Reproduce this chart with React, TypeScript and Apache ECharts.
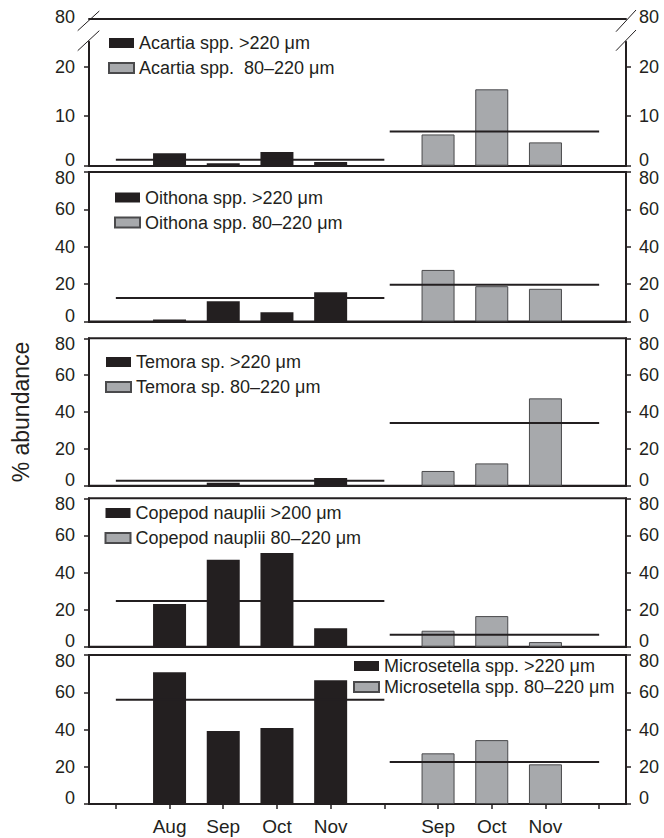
import React, { useEffect, useRef } from 'react';
import * as echarts from 'echarts';

// ---------- data ----------
const categories = ['', 'Aug', 'Sep', 'Oct', 'Nov', '', 'Sep', 'Oct', 'Nov', ''];

const largeLabels = [
  'Acartia spp. >220 μm',
  'Oithona spp. >220 μm',
  'Temora sp. >220 μm',
  'Copepod nauplii >200 μm',
  'Microsetella spp. >220 μm',
];
const smallLabels = [
  'Acartia spp.  80–220 μm',
  'Oithona spp. 80–220 μm',
  'Temora sp. 80–220 μm',
  'Copepod nauplii 80–220 μm',
  'Microsetella spp. 80–220 μm',
];

// >220 µm fraction: Aug, Sep, Oct, Nov
const acartiaLarge = [2.5, 0.5, 2.75, 0.75];
const oithonaLarge = [1.1, 10.8, 4.9, 15.7];
const temoraLarge = [0, 1.6, 0, 4.2];
const naupliiLarge = [23, 46.9, 50.5, 9.9];
const microLarge = [70.7, 39.2, 40.8, 66.5];

// 80–220 µm fraction: Sep, Oct, Nov
const acartiaSmall = [6.3, 15.4, 4.7];
const oithonaSmall = [27.6, 18.9, 17.5];
const temoraSmall = [8, 12.1, 47.4];
const naupliiSmall = [8.6, 16.5, 2.5];
const microSmall = [27.2, 34.3, 21.3];

// mean lines
const largeMeans = [1.2, 12.6, 2.7, 24.6, 56];
const smallMeans = [6.9, 19.6, 34, 6.5, 22.5];

// axis settings
const yMax = [25, 80, 80, 80, 80];
const yInterval = [10, 20, 20, 20, 20];
const panel1Ticks = [0, 10, 20];
const breakLabel = 80;

const largeSets = [acartiaLarge, oithonaLarge, temoraLarge, naupliiLarge, microLarge];
const smallSets = [acartiaSmall, oithonaSmall, temoraSmall, naupliiSmall, microSmall];

// ---------- layout ----------
const FONT = '"Liberation Sans", Arial, Helvetica, sans-serif';
const INK = '#231f20';
const GRAY = '#a7a9ac';
const LEFT = 89;
const RIGHT = 38;
const gridTops = [41.7, 172, 338.3, 498.3, 655];
const gridBottoms = [165.7, 321.5, 485.7, 646.7, 804];
const legendLeft = [108, 114, 105, 104.5, 353];
const legendTop = [34, 188.5, 353, 504, 657];
const legendGap = [7, 7, 7, 7, 3];

function buildOption() {
  const grid: any[] = [];
  const xAxis: any[] = [];
  const yAxis: any[] = [];
  const series: any[] = [];
  const legend: any[] = [];

  for (let i = 0; i < 5; i++) {
    grid.push({
      left: LEFT,
      right: RIGHT,
      top: gridTops[i],
      height: gridBottoms[i] - gridTops[i],
      show: i > 0,
      borderColor: INK,
      borderWidth: 2,
      backgroundColor: 'transparent',
      outerBoundsMode: 'none',
    });
    const isBottom = i === 4;
    xAxis.push({
      gridIndex: i,
      type: 'category',
      data: categories,
      boundaryGap: true,
      axisLine: { show: true, lineStyle: { color: INK, width: 2 } },
      axisTick: {
        show: isBottom,
        alignWithLabel: true,
        interval: 0,
        length: 5,
        lineStyle: { color: INK, width: 1.5 },
      },
      axisLabel: {
        show: isBottom,
        interval: 0,
        margin: 13,
        fontSize: 19,
        color: INK,
        fontFamily: FONT,
      },
      splitLine: { show: false },
    });
    xAxis.push({
      gridIndex: i,
      type: 'value',
      min: -0.5,
      max: 9.5,
      show: false,
    });
    const mkY = (pos: 'left' | 'right') => {
      const y: any = {
        gridIndex: i,
        type: 'value',
        position: pos,
        min: 0,
        max: yMax[i],
        interval: yInterval[i],
        axisLine: { show: true, onZero: false, lineStyle: { color: INK, width: 2 } },
        axisTick: { show: true, inside: false, length: 5, lineStyle: { color: INK, width: 1.5 } },
        axisLabel: {
          margin: pos === 'left' ? 14 : 13,
          fontSize: 18,
          lineHeight: 12,
          color: INK,
          fontFamily: FONT,
          verticalAlignMinLabel: 'bottom',
          verticalAlignMaxLabel: i > 0 ? 'top' : undefined,
        },
        splitLine: { show: false },
      };
      if (i === 0) {
        y.axisLabel.customValues = panel1Ticks;
        y.axisTick.customValues = panel1Ticks;
        y.axisLabel.formatter = (v: number) => (panel1Ticks.includes(v) ? String(v) : '');
      }
      if (i === 2 && pos === 'left') {
        y.name = '% abundance';
        y.nameLocation = 'middle';
        y.nameGap = 57;
        y.nameRotate = 90;
        y.nameTextStyle = { fontSize: 23, color: INK, fontFamily: FONT };
      }
      return y;
    };
    yAxis.push(mkY('left'));
    yAxis.push(mkY('right'));

    const large = largeSets[i];
    const small = smallSets[i];
    const largeData = [null, ...large, null, null, null, null, null];
    const smallData = [null, null, null, null, null, null, ...small, null];

    series.push({
      name: largeLabels[i],
      type: 'bar',
      xAxisIndex: i * 2,
      yAxisIndex: i * 2,
      barWidth: 33,
      barGap: '-100%',
      data: largeData,
      itemStyle: { color: INK },
      silent: true,
    });
    series.push({
      name: smallLabels[i],
      type: 'bar',
      xAxisIndex: i * 2,
      yAxisIndex: i * 2,
      barWidth: 33,
      barGap: '-100%',
      data: smallData,
      itemStyle: { color: GRAY, borderColor: '#4a4a4c', borderWidth: 1 },
      silent: true,
    });
    series.push({
      type: 'line',
      xAxisIndex: i * 2 + 1,
      yAxisIndex: i * 2,
      data: [
        [0, largeMeans[i]],
        [5, largeMeans[i]],
      ],
      symbol: 'none',
      lineStyle: { color: INK, width: 2 },
      silent: true,
      z: 5,
    });
    series.push({
      type: 'line',
      xAxisIndex: i * 2 + 1,
      yAxisIndex: i * 2,
      data: [
        [5.1, smallMeans[i]],
        [9, smallMeans[i]],
      ],
      symbol: 'none',
      lineStyle: { color: INK, width: 2 },
      silent: true,
      z: 5,
    });

    legend.push({
      orient: 'vertical',
      left: legendLeft[i],
      top: legendTop[i],
      padding: 0,
      itemWidth: 25,
      itemHeight: 10,
      itemGap: legendGap[i],
      icon: 'rect',
      selectedMode: false,
      data: [largeLabels[i], smallLabels[i]],
      textStyle: { fontSize: 18, color: INK, fontFamily: FONT },
    });
  }

  // top (broken) segment of panel 1: the "80" border line
  grid.push({
    left: LEFT,
    right: RIGHT,
    top: 17.3,
    height: 1,
    show: false,
    outerBoundsMode: 'none',
  });
  xAxis.push({
    gridIndex: 5,
    type: 'category',
    data: categories,
    position: 'top',
    axisLine: { show: true, lineStyle: { color: INK, width: 2 } },
    axisTick: { show: false },
    axisLabel: { show: false },
    splitLine: { show: false },
  });
  const topY = (pos: 'left' | 'right') => ({
    gridIndex: 5,
    type: 'value',
    position: pos,
    min: 0,
    max: breakLabel,
    interval: breakLabel,
    axisLine: { show: false },
    axisTick: { show: false },
    splitLine: { show: false },
    axisLabel: {
      customValues: [breakLabel],
      formatter: (v: number) => (v === breakLabel ? String(v) : ''),
      margin: pos === 'left' ? 14 : 13,
      fontSize: 18,
      lineHeight: 12,
      color: INK,
      fontFamily: FONT,
      padding: [6, 0, 0, 0],
    },
  });
  yAxis.push(topY('left'));
  yAxis.push(topY('right'));

  const slash = (x1: number, y1: number, x2: number, y2: number) => ({
    type: 'line',
    shape: { x1, y1, x2, y2 },
    style: { stroke: INK, lineWidth: 1 },
    silent: true,
  });

  return {
    animation: false,
    backgroundColor: '#ffffff',
    textStyle: { fontFamily: FONT },
    grid,
    xAxis,
    yAxis,
    series,
    legend,
    graphic: [
      slash(77.7, 30.7, 99.3, 11),
      slash(77.7, 50.7, 99.3, 30.7),
      slash(616, 31.7, 636, 10),
      slash(616, 50.7, 636, 30),
    ],
  };
}

export default function App() {
  const ref = useRef<HTMLDivElement>(null);
  useEffect(() => {
    document.body.style.margin = '0';
    if (!ref.current) return;
    const chart = echarts.init(ref.current, undefined, { renderer: 'svg' });
    chart.setOption(buildOption() as any);
    return () => chart.dispose();
  }, []);
  return <div ref={ref} style={{ width: 664, height: 838 }} />;
}
